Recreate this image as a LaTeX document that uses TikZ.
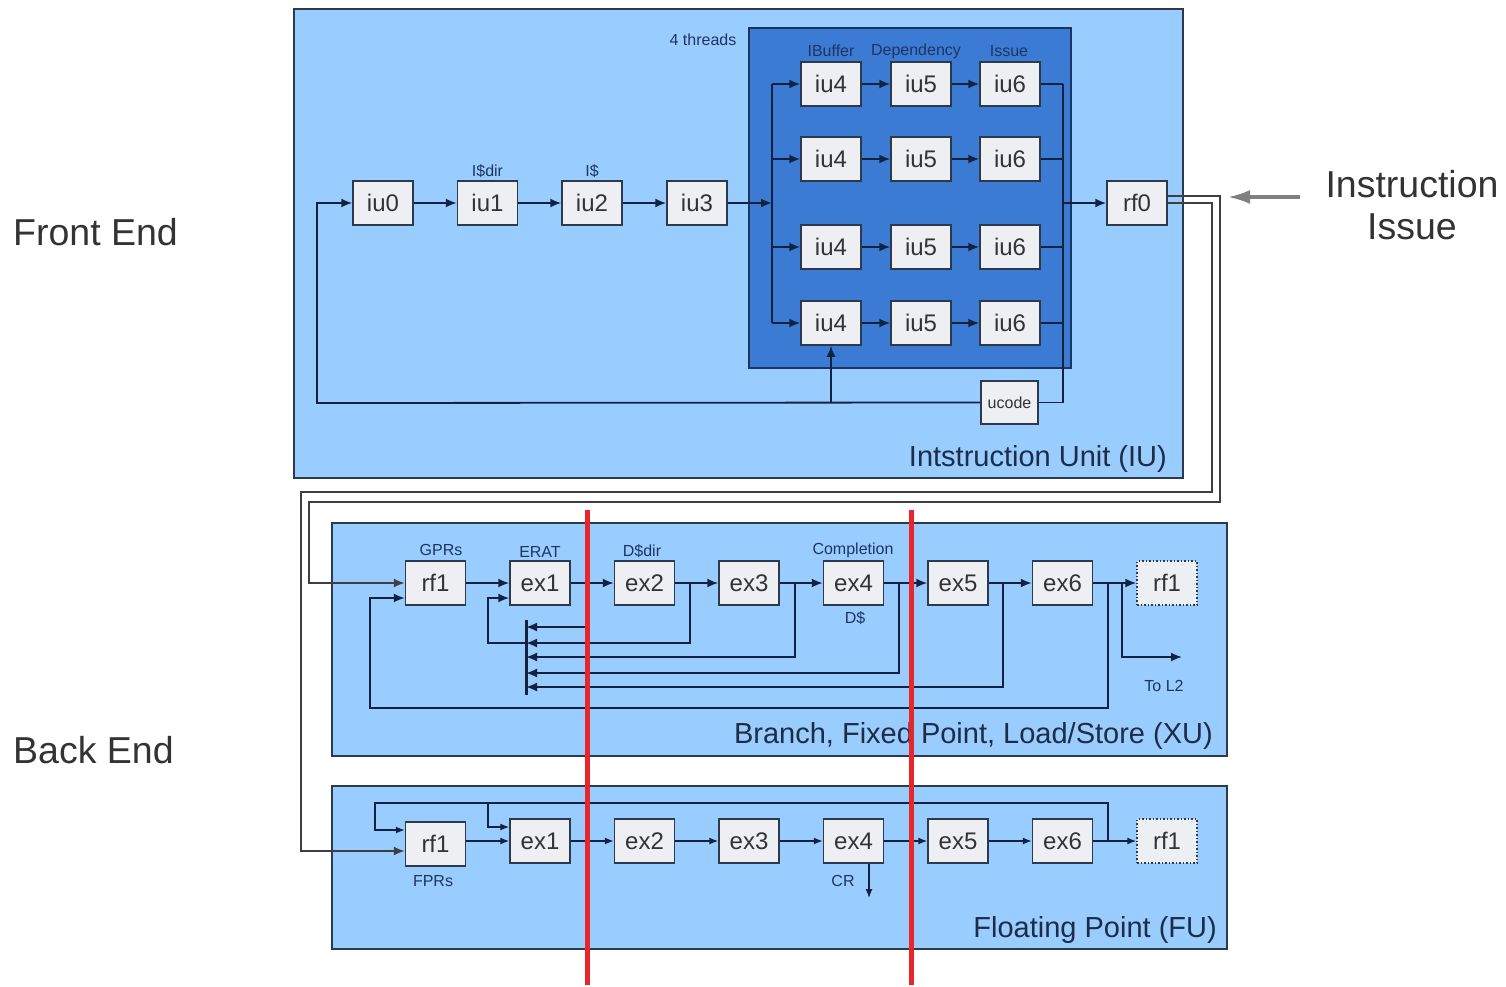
\documentclass[tikz,border=0pt]{standalone}
\usepackage{fontspec}
\setmainfont{Liberation Sans}
\usetikzlibrary{arrows.meta}

\definecolor{unitfill}{HTML}{99CCFF}
\definecolor{threadfill}{HTML}{3B7BD4}
\definecolor{threadedge}{HTML}{1C3560}
\definecolor{boxfill}{HTML}{EDEFF3}
\definecolor{boxedge}{HTML}{2D3A4C}
\definecolor{wirecol}{HTML}{13223F}
\definecolor{tagcol}{HTML}{1F3560}
\definecolor{unittext}{HTML}{1E2D44}
\definecolor{sidetext}{HTML}{333333}
\definecolor{cutred}{HTML}{E8262A}
\definecolor{issuegray}{HTML}{3F3F3F}

\tikzset{
  stagebox/.style={draw=boxedge, fill=boxfill, line width=1.5pt,
    minimum width=60pt, minimum height=44pt, inner sep=0pt,
    font=\fontsize{24}{26}\selectfont, text=black!80},
  ghostbox/.style={stagebox, dash pattern=on 1.5pt off 2pt},
  unitbox/.style={draw=boxedge, fill=unitfill, line width=1.8pt,
    anchor=north west, inner sep=0pt},
  wireline/.style={draw=wirecol, line width=1.8pt},
  flowarrow/.style={wireline, -{Latex[length=11pt,width=9pt]}},
  thinflow/.style={draw=wirecol, line width=1.3pt, -{Latex[length=9pt,width=7pt]}},
  issueline/.style={draw=issuegray, line width=1.8pt},
  smalltag/.style={font=\fontsize{16}{18}\selectfont, text=tagcol, inner sep=0pt},
  unitlabel/.style={font=\fontsize{29}{31}\selectfont, text=unittext, inner sep=0pt, anchor=base east},
  sidelabel/.style={font=\fontsize{37.5}{42}\selectfont, text=sidetext, inner sep=0pt, align=center},
  cutline/.style={draw=cutred, line width=5pt}
}

\begin{document}
\begin{tikzpicture}[x=1pt, y=-1pt]
\useasboundingbox (0,0) rectangle (1506,987);

% ---------------- Instruction unit ----------------
\node[unitbox, minimum width=889pt, minimum height=469pt] (iuunit) at (293,8) {};
\node[draw=threadedge, fill=threadfill, line width=2pt, anchor=north west, inner sep=0pt,
      minimum width=322pt, minimum height=340pt] (threads) at (748,27) {};

\node[stagebox] (iu0) at (383,203) {iu0};
\node[stagebox] (iu1) at (487.5,203) {iu1};
\node[stagebox] (iu2) at (592,203) {iu2};
\node[stagebox] (iu3) at (697,203) {iu3};
\node[smalltag] (tdir) at (487.5,171) {I\$dir};
\node[smalltag] (tic) at (592,171) {I\$};

\draw[flowarrow] (iu0) -- (iu1);
\draw[flowarrow] (iu1) -- (iu2);
\draw[flowarrow] (iu2) -- (iu3);

\node[smalltag] (nthr) at (703,40) {4 threads};
\node[smalltag] (tbuf) at (831,51) {IBuffer};
\node[smalltag] (tdep) at (916,51) {Dependency};
\node[smalltag] (tiss) at (1009,51) {Issue};

\coordinate (lbus) at (772,203);
\coordinate (rbus) at (1063,203);

\foreach \r/\yy in {1/84,2/159,3/247,4/323}{
  \node[stagebox] (a\r) at (831,\yy) {iu4};
  \node[stagebox] (b\r) at (921,\yy) {iu5};
  \node[stagebox] (c\r) at (1010,\yy) {iu6};
  \draw[flowarrow] (a\r.west -| lbus) -- (a\r.west);
  \draw[flowarrow] (a\r) -- (b\r);
  \draw[flowarrow] (b\r) -- (c\r);
  \draw[wireline] (c\r.east) -- (c\r.east -| rbus);
}
\draw[wireline] (a1.west -| lbus) -- (a4.west -| lbus);
\draw[flowarrow] (iu3.east) -- (lbus);

\node[stagebox, minimum width=57pt, minimum height=43pt,
      font=\fontsize{16}{18}\selectfont] (ucode) at (1009.5,402.5) {ucode};
\node[stagebox] (rf0) at (1137,203) {rf0};

\draw[wireline] (c1.east -| rbus) -- (rbus |- ucode.east) -- (ucode.east);
\draw[flowarrow] (rbus) -- (rf0.west);

\coordinate (fbl) at (317,403);
\draw[flowarrow] (ucode.west) -- (fbl) -- (fbl |- iu0.west) -- (iu0.west);
\draw[flowarrow] (a4.south |- ucode.west) -- (a4.south);

\node[unitlabel] (iulab) at (1167,466) {Intstruction Unit (IU)};

% ---------------- Execution units ----------------
\node[unitbox, minimum width=895pt, minimum height=233pt] (xuunit) at (331,522) {};
\node[unitbox, minimum width=895pt, minimum height=163pt] (fuunit) at (331,785) {};

% XU pipeline
\node[stagebox] (xrf1) at (435.5,583) {rf1};
\node[stagebox] (xe1) at (540,583) {ex1};
\node[stagebox] (xe2) at (644.5,583) {ex2};
\node[stagebox] (xe3) at (749,583) {ex3};
\node[stagebox] (xe4) at (853.5,583) {ex4};
\node[stagebox] (xe5) at (958,583) {ex5};
\node[stagebox] (xe6) at (1062.5,583) {ex6};
\node[ghostbox] (xrg) at (1167,583) {rf1};

\node[smalltag] (tgpr) at (441,550) {GPRs};
\node[smalltag] (terat) at (540,552) {ERAT};
\node[smalltag] (tddir) at (642,551) {D\$dir};
\node[smalltag] (tcomp) at (853,550) {Completion};
\node[smalltag] (tdc) at (855,618) {D\$};

\draw[flowarrow] (xrf1) -- (xe1);
\draw[flowarrow] (xe1) -- (xe2);
\draw[flowarrow] (xe2) -- (xe3);
\draw[flowarrow] (xe3) -- (xe4);
\draw[flowarrow] (xe4) -- (xe5);
\draw[flowarrow] (xe5) -- (xe6);
\draw[flowarrow] (xe6) -- (xrg);

% forwarding bus
\coordinate (bustop) at (526,620);
\coordinate (busbot) at (526,695);
\draw[draw=wirecol, line width=3pt] (bustop) -- (busbot);

\coordinate (t1) at (587,627);
\coordinate (t2) at (690,643);
\coordinate (t3) at (795,657);
\coordinate (t4) at (899,673);
\coordinate (t5) at (1003,687);
\foreach \t in {t1,t2,t3,t4,t5}{
  \draw[flowarrow] (\t |- xe1.east) -- (\t) -- (\t -| bustop);
}
\coordinate (l2) at (488,643);
\draw[flowarrow] (t2 -| bustop) -- (l2) -- (l2 |- 0,598) -- ([yshift=-15pt]xe1.west);

\coordinate (t6) at (1108,708);
\coordinate (l6) at (370,708);
\draw[flowarrow] (t6 |- xe6.east) -- (t6) -- (l6) -- (l6 |- 0,598) -- ([yshift=-15pt]xrf1.west);

\coordinate (tol2a) at (1122,657);
\coordinate (tol2b) at (1182,657);
\draw[flowarrow] (tol2a |- xe6.east) -- (tol2a) -- (tol2b);
\node[smalltag] (tl2) at (1164,686) {To L2};

\node[unitlabel] (xulab) at (1213,743) {Branch, Fixed Point, Load/Store (XU)};

% FU pipeline
\node[stagebox] (frf1) at (435.5,844) {rf1};
\node[stagebox] (fe1) at (540,841) {ex1};
\node[stagebox] (fe2) at (644.5,841) {ex2};
\node[stagebox] (fe3) at (749,841) {ex3};
\node[stagebox] (fe4) at (853.5,841) {ex4};
\node[stagebox] (fe5) at (958,841) {ex5};
\node[stagebox] (fe6) at (1062.5,841) {ex6};
\node[ghostbox] (frg) at (1167,841) {rf1};

\node[smalltag] (tfpr) at (433,881) {FPRs};
\node[smalltag] (tcr) at (843,881) {CR};

\draw[thinflow] (fe1.west -| frf1.east) -- (fe1.west);
\draw[thinflow] (fe1) -- (fe2);
\draw[thinflow] (fe2) -- (fe3);
\draw[thinflow] (fe3) -- (fe4);
\draw[thinflow] (fe4) -- (fe5);
\draw[thinflow] (fe5) -- (fe6);
\draw[thinflow] (fe6) -- (frg);

\coordinate (f6) at (1108,803);
\coordinate (fl) at (375,803);
\coordinate (fm) at (488,803);
\draw[thinflow] (f6 |- fe6.east) -- (f6) -- (fl) -- (fl |- 0,830) -- ([yshift=14pt]frf1.west);
\draw[thinflow] (fm) -- (fm |- 0,827) -- ([yshift=14pt]fe1.west);

\coordinate (crend) at (869,898);
\draw[thinflow] (crend |- fe4.south) -- (crend);

\node[unitlabel] (fulab) at (1217,937) {Floating Point (FU)};

% ---------------- issue paths from rf0 ----------------
\coordinate (pa1) at (1212,492);
\coordinate (pa2) at (301,492);
\draw[issueline, -{Latex[length=11pt,width=9pt]}]
  (rf0.east) -- (pa1 |- rf0.east) -- (pa1) -- (pa2) -- (pa2 |- 0,851) -- ([yshift=-7pt]frf1.west);
\coordinate (pb1) at (1220,502);
\coordinate (pb2) at (309,502);
\draw[issueline, -{Latex[length=11pt,width=9pt]}]
  ([yshift=7pt]rf0.east) -- (pb1 |- 0,196) -- (pb1) -- (pb2) -- (pb2 |- xrf1.west) -- (xrf1.west);

% ---------------- side labels ----------------
\node[sidelabel, anchor=west] (fe) at (13,232) {Front End};
\node[sidelabel, anchor=west] (be) at (13,750) {Back End};
\node[sidelabel] (issue) at (1412,205) {Instruction\\Issue};
\coordinate (iis) at (1300,197);
\coordinate (iie) at (1228,197);
\draw[draw=gray, line width=3pt, -{Latex[length=22pt,width=14pt]}] (iis) -- (iie);

% ---------------- stage cut lines ----------------
\coordinate (cut1t) at (587,510);
\coordinate (cut1b) at (587,985);
\coordinate (cut2t) at (911,510);
\coordinate (cut2b) at (911,985);
\draw[cutline] (cut1t) -- (cut1b);
\draw[cutline] (cut2t) -- (cut2b);
\end{tikzpicture}
\end{document}
